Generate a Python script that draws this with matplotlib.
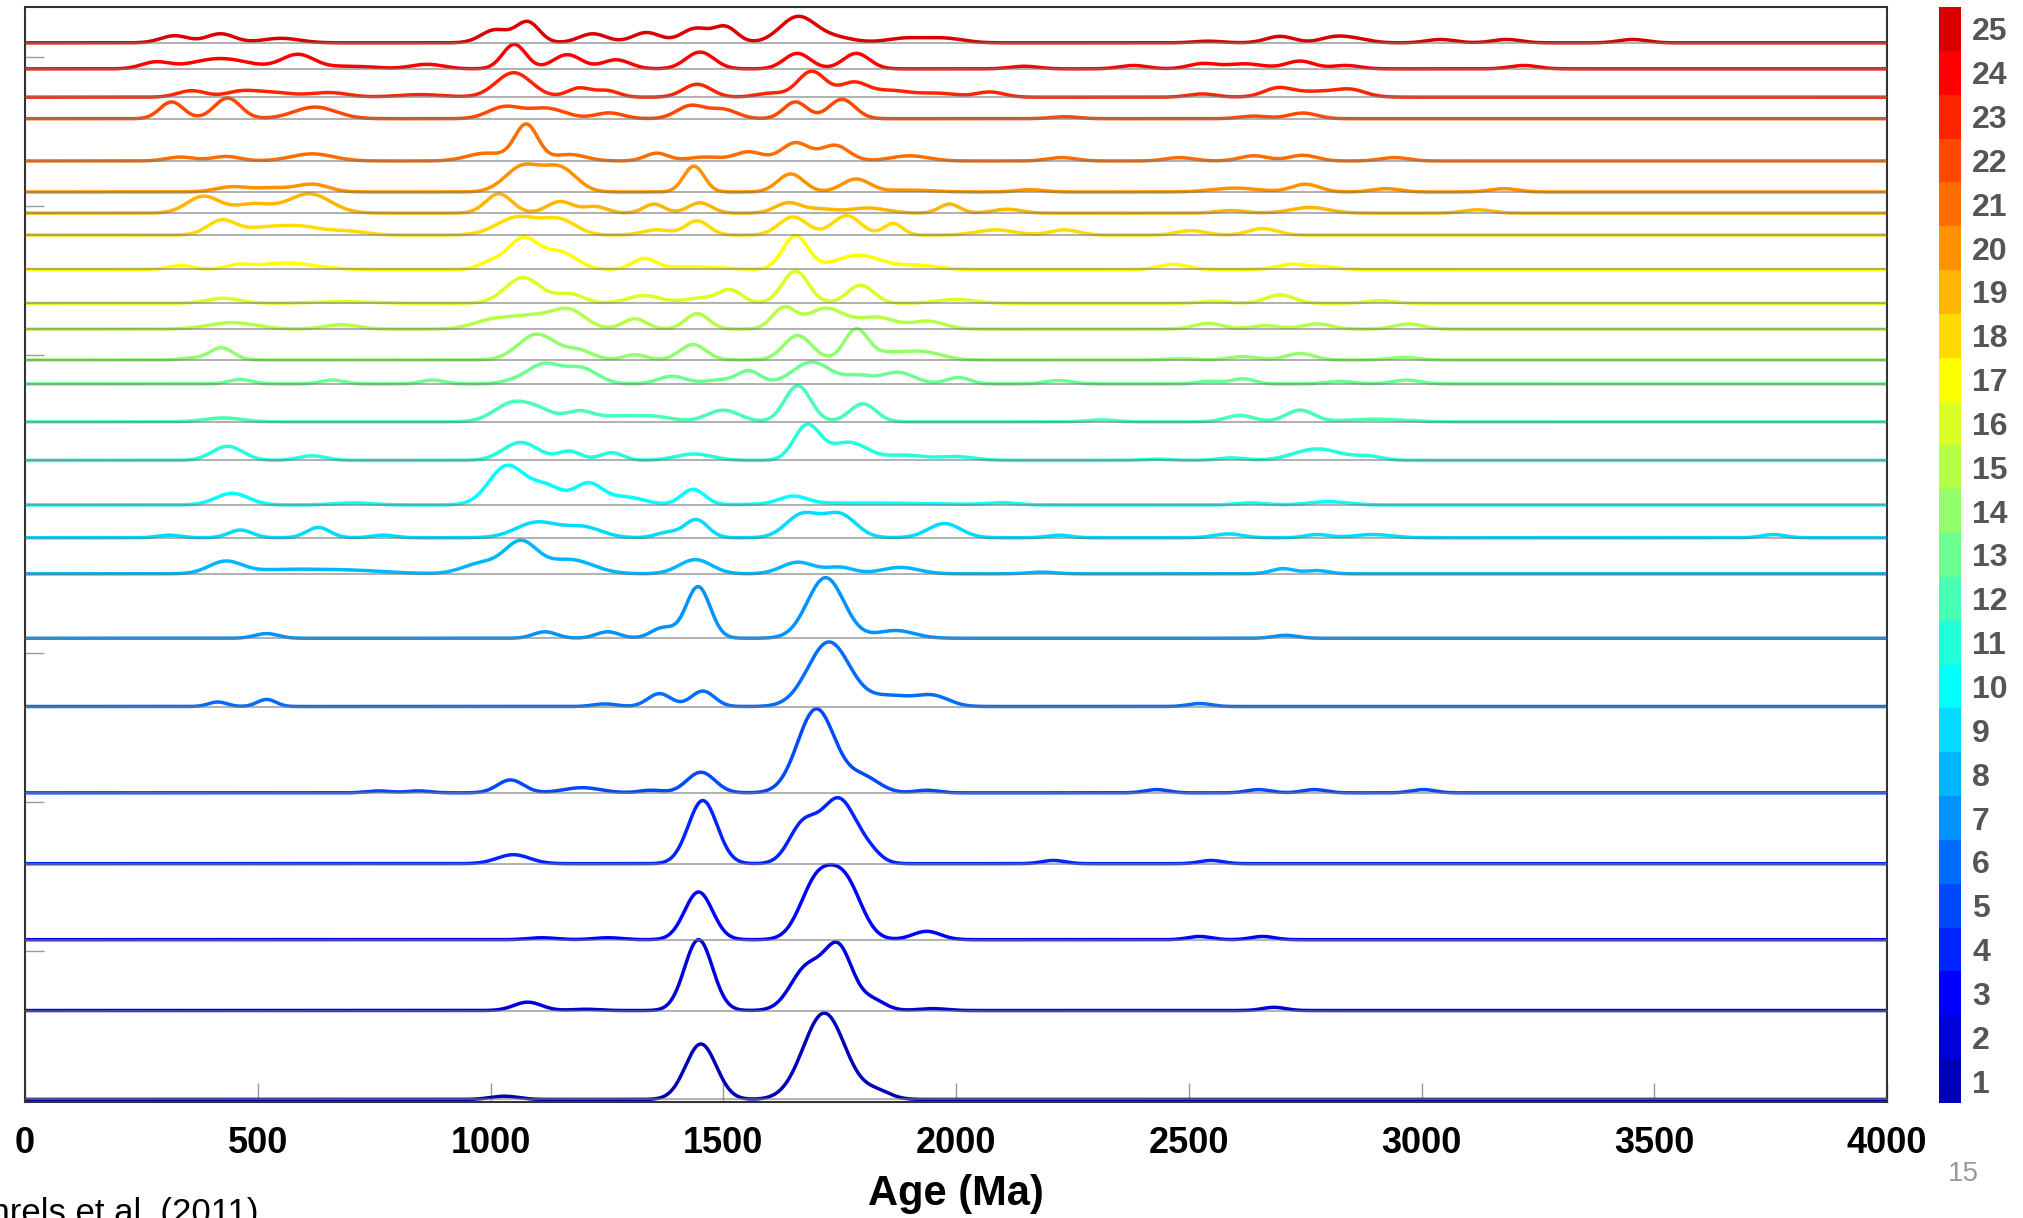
import numpy as np
import matplotlib
matplotlib.use("Agg")
import matplotlib.pyplot as plt
from matplotlib.colors import ListedColormap, BoundaryNorm
from matplotlib.colorbar import ColorbarBase

plt.rcParams['font.family'] = ['Liberation Sans', 'DejaVu Sans']

# sample peaks: (age Ma, height, spread Ma)
s01 = [(1030, 2.5, 30), (1452, 43, 33), (1717, 67, 45), (1830, 6, 30)]
s02 = [(1080, 6.5, 30), (1205, 1, 30), (1447, 55, 30), (1680, 33, 35), (1748, 47, 30), (1820, 8, 28),
       (1949, 1.5, 30), (2683, 2.5, 25)]
s03 = [(1111, 1.5, 30), (1252, 1.5, 30), (1447, 37, 30), (1700, 43, 35), (1762, 43, 35), (1937, 6.5, 30),
       (2523, 2.5, 25), (2659, 2.5, 25)]
s04 = [(1049, 7, 35), (1456, 49, 31), (1670, 28, 30), (1748, 50, 38), (1815, 6, 25), (2209, 2.5, 25),
       (2548, 2.5, 25)]
s05 = [(759, 1.5, 25), (845, 1.5, 25), (1043, 10, 28), (1197, 4, 40), (1345, 2, 25), (1452, 16, 30),
       (1700, 65, 40), (1800, 12, 35), (1937, 2, 25), (2431, 2.5, 25), (2650, 2.5, 25), (2770, 2.5, 25),
       (3004, 2.5, 25)]
s06 = [(414, 3.5, 20), (519, 5.5, 20), (1246, 2, 25), (1363, 10, 25), (1456, 12, 25), (1727, 50, 45),
       (1860, 8, 45), (1950, 8, 35), (2523, 2.3, 25)]
s07 = [(519, 3.6, 25), (1117, 5, 25), (1252, 5, 25), (1370, 8, 25), (1446, 40, 26), (1720, 47, 39),
       (1870, 6, 40), (2708, 2.3, 25)]
s08 = [(430, 9, 35), (550, 3, 80), (700, 2.5, 80), (980, 8, 40), (1065, 24, 35), (1170, 11, 50),
       (1440, 11, 35), (1660, 9, 35), (1750, 5, 30), (1880, 5, 40), (2184, 1.3, 30), (2702, 4, 25),
       (2776, 2.5, 25)]
s09 = [(310, 2, 25), (463, 6, 25), (630, 8, 25), (770, 2, 25), (1100, 12, 45), (1200, 8, 40), (1380, 4, 25),
       (1442, 14, 25), (1670, 18, 35), (1750, 18, 35), (1975, 11, 35), (2221, 2, 25), (2585, 3, 30),
       (2776, 2.5, 25), (2895, 2.5, 40), (3756, 2.5, 25)]
s10 = [(445, 9, 35), (704, 1.5, 40), (1035, 30, 38), (1120, 14, 35), (1210, 16, 30), (1290, 6, 40),
       (1435, 12, 25), (1650, 6, 30), (1800, 1.5, 150), (2098, 1.5, 30), (2634, 1.5, 30), (2800, 2.5, 40)]
s11 = [(435, 11, 33), (617, 3.6, 30), (1065, 14, 38), (1170, 7, 25), (1260, 6, 25), (1437, 5, 40),
       (1680, 27, 28), (1770, 14, 40), (1890, 4, 40), (2000, 3, 40), (2431, 1, 30), (2591, 2, 30),
       (2776, 9, 50), (2887, 3, 30)]
s12 = [(426, 3, 40), (1050, 15, 40), (1110, 6, 30), (1190, 8, 30), (1270, 4, 40), (1350, 4, 40),
       (1500, 9, 35), (1660, 28, 28), (1800, 14, 28), (2313, 1.5, 30), (2609, 5, 30), (2739, 9, 30),
       (2900, 2, 60)]
s13 = [(463, 3.5, 25), (660, 3, 25), (876, 3, 25), (1050, 2, 30), (1115, 15, 35), (1195, 12, 35),
       (1390, 6, 30), (1490, 3, 30), (1555, 10, 25), (1690, 17, 40), (1790, 6, 30), (1875, 9, 35),
       (2005, 5, 25), (2221, 2.6, 30), (2542, 2, 25), (2616, 4, 25), (2825, 2, 30), (2967, 3, 30)]
s14 = [(358, 1.3, 25), (422, 9.5, 25), (1100, 20, 40), (1190, 7, 30), (1310, 4, 25), (1435, 12, 28),
       (1660, 19, 30), (1785, 23, 25), (1850, 5, 40), (1930, 6, 40), (2480, 1, 30), (2616, 2.6, 30),
       (2739, 5, 30), (2961, 2, 30)]
s15 = [(445, 5, 50), (679, 3.4, 35), (1000, 6, 40), (1090, 10, 50), (1170, 13, 35), (1310, 8, 25),
       (1444, 12, 25), (1630, 16, 25), (1720, 16, 40), (1830, 9, 40), (1940, 6, 35), (2542, 4.4, 30),
       (2665, 2.6, 30), (2776, 4, 30), (2973, 4, 30)]
s16 = [(426, 3.9, 35), (680, 1.3, 60), (1070, 20, 38), (1170, 7, 30), (1330, 6, 35), (1450, 4, 35),
       (1515, 10, 25), (1655, 25, 28), (1795, 14, 28), (2000, 3, 40), (2554, 1.5, 30), (2696, 6.5, 30),
       (2912, 2, 30)]
s17 = [(334, 3, 25), (457, 3, 25), (560, 5, 60), (1000, 5, 25), (1070, 24, 33), (1150, 13, 35),
       (1330, 8, 25), (1430, 2, 60), (1655, 26, 27), (1790, 11, 50), (1920, 3, 40), (2468, 3.9, 30),
       (2720, 3.9, 30), (2788, 2, 30)]
s18 = [(422, 11, 30), (520, 6, 50), (600, 5, 40), (690, 3, 40), (1060, 14, 45), (1150, 11, 35),
       (1357, 4, 30), (1444, 11, 25), (1650, 14, 30), (1765, 15, 30), (1865, 9, 20), (2085, 4, 40),
       (2233, 4, 30), (2505, 3.4, 30), (2659, 5, 30)]
s19 = [(383, 13, 35), (490, 7, 40), (611, 15, 45), (1018, 15, 28), (1150, 9, 28), (1225, 5, 25),
       (1351, 7, 22), (1450, 8, 25), (1640, 8, 28), (1710, 3, 30), (1810, 4, 40), (1986, 7, 22),
       (2110, 3, 30), (2591, 2, 30), (2760, 4.4, 40), (3121, 2.6, 30)]
s20 = [(445, 4, 35), (530, 3, 35), (617, 6, 35), (1070, 20, 38), (1150, 18, 35), (1437, 20, 22),
       (1645, 14, 28), (1785, 10, 30), (1900, 1.5, 50), (2159, 1.8, 30), (2600, 3, 50), (2751, 6, 30),
       (2924, 2.6, 30), (3177, 2.6, 30)]
s21 = [(334, 3, 30), (432, 3.5, 30), (617, 5.5, 45), (990, 6, 40), (1077, 28, 25), (1170, 5, 35),
       (1357, 6, 25), (1460, 3, 35), (1555, 7, 30), (1655, 14, 30), (1740, 12, 30), (1900, 4, 40),
       (2227, 2.6, 30), (2480, 2.6, 30), (2640, 4, 30), (2745, 4.4, 30), (2942, 2.6, 30)]
s22 = [(315, 13, 25), (435, 16, 28), (623, 9, 45), (1030, 9, 35), (1120, 8, 40), (1255, 4.5, 30),
       (1430, 10, 30), (1500, 7, 30), (1655, 13, 25), (1755, 15, 28), (2233, 1.5, 30), (2640, 2, 30),
       (2745, 4.4, 30)]
s23 = [(358, 5, 30), (460, 3, 30), (520, 4, 50), (654, 3.5, 40), (850, 2, 50), (1050, 19, 38),
       (1190, 7, 25), (1250, 5, 25), (1444, 10, 30), (1600, 3, 30), (1690, 20, 30), (1780, 11, 30),
       (1860, 5, 40), (1960, 3, 40), (2073, 4, 30), (2529, 2.5, 30), (2690, 6, 30), (2780, 4.5, 60),
       (2850, 4, 30)]
s24 = [(280, 5, 30), (420, 8, 60), (586, 11, 35), (700, 2, 50), (864, 3.5, 35), (1051, 19, 25),
       (1165, 11, 30), (1270, 7, 30), (1450, 13, 30), (1659, 12, 28), (1786, 12, 28), (2147, 2, 30),
       (2381, 2.6, 30), (2529, 3.9, 30), (2620, 3.9, 40), (2739, 6, 30), (2838, 2.6, 30), (3220, 2.6, 30)]
s25 = [(321, 5.5, 30), (420, 7, 30), (550, 3.5, 40), (1010, 10, 30), (1080, 16, 25), (1220, 7, 30),
       (1335, 8, 30), (1440, 11, 30), (1505, 12, 25), (1660, 20, 38), (1740, 4, 40), (1890, 3.5, 40),
       (1975, 3.5, 40), (2542, 1.3, 30), (2696, 5, 30), (2813, 4.4, 30), (2862, 2.6, 30), (3041, 2.6, 30),
       (3183, 2.6, 30), (3454, 2.6, 30)]

samples = [s01, s02, s03, s04, s05, s06, s07, s08, s09, s10, s11, s12, s13,
           s14, s15, s16, s17, s18, s19, s20, s21, s22, s23, s24, s25]

# vertical offset of each sample's baseline
offsets = [0, 69, 124, 183, 238, 305, 358, 408, 436, 461.5, 496, 526, 555.4,
           574, 598, 618, 644.3, 671, 688, 704.4, 728.5, 761.3, 778, 800, 820.2]

sample_ids = list(range(1, 26))
xticks = [0, 500, 1000, 1500, 2000, 2500, 3000, 3500, 4000]

# jet(25), as in matlab
colors = ['#0000b6', '#0000db', '#0000ff', '#0024ff', '#0049ff', '#006dff', '#0092ff', '#00b6ff',
          '#00dbff', '#00ffff', '#24ffdb', '#49ffb6', '#6dff92', '#92ff6d', '#b6ff49', '#dbff24',
          '#ffff00', '#ffdb00', '#ffb600', '#ff9200', '#ff6d00', '#ff4900', '#ff2400', '#ff0000',
          '#db0000']

age = np.linspace(0, 4000, 2001)

fig = plt.figure(figsize=(20.23, 12.18), dpi=100)
ax = fig.add_axes([25 / 2023, 1 - 1102 / 1218, 1862 / 2023, 1095 / 1218])

for pk, off, col in zip(samples, offsets, colors):
    y = np.zeros_like(age)
    for a, h, s in pk:
        y += h * np.exp(-0.5 * ((age - a) / s) ** 2)
    ax.plot(age, y + off, color=col, lw=2.5, zorder=2, solid_capstyle='butt')
    ax.axhline(off, color='#7a7a7a', lw=1.1, alpha=0.75, zorder=3)

ax.set_xlim(0, 4000)
ax.set_ylim(-2, 848)
ax.set_xticks(xticks)
ax.set_xticklabels([str(t) for t in xticks], fontsize=26, fontweight='bold')
ax.set_yticks([115.6 * k for k in range(1, 8)])
ax.set_yticklabels([])
ax.tick_params(axis='both', direction='in', length=14, width=1, color='#999999')
ax.tick_params(axis='x', pad=17)
for sp in ax.spines.values():
    sp.set_color('#333333')
    sp.set_linewidth(1.5)

ax.set_xlabel('Age (Ma)', fontsize=30, fontweight='bold')
ax.xaxis.set_label_coords(0.5, -0.066)

# colour bar for sample number
cax = fig.add_axes([1939 / 2023, 1 - 1103 / 1218, 22 / 2023, 1096 / 1218])
cmap = ListedColormap(colors)
norm = BoundaryNorm(np.arange(0.5, 26.5, 1), cmap.N)
cb = ColorbarBase(cax, cmap=cmap, norm=norm, ticks=sample_ids)
cb.outline.set_visible(False)
cb.ax.tick_params(length=0, pad=8)
cb.ax.minorticks_off()
cb.ax.set_yticklabels([str(i) for i in sample_ids], fontsize=23, fontweight='bold', color='#555555')

fig.text(1963 / 2023, 1 - 1174 / 1218, '15', ha='center', va='center', fontsize=20, color='#999999')
fig.text(258 / 2023, -0.004, 'Gehrels et al. (2011)', ha='right', va='baseline', fontsize=25, color='black')

fig.savefig('out.png', dpi=100)
